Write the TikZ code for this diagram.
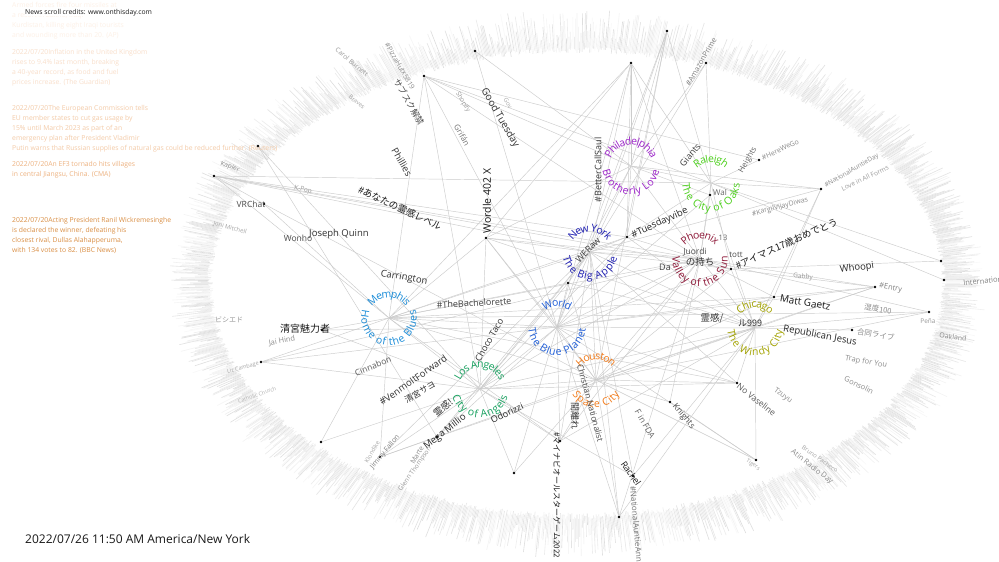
\documentclass[tikz,border=0pt]{standalone}
\usepackage{fontspec}
\setmainfont{Open Sans}
\newfontfamily\jp{Noto Sans CJK JP}
\usetikzlibrary{decorations.text}
\pgfdeclarelayer{ringlayer}
\pgfdeclarelayer{linklayer}
\pgfsetlayers{ringlayer,linklayer,main}
\definecolor{cmem}{HTML}{1A8CD8}
\definecolor{cphi}{HTML}{9B22C8}
\definecolor{cral}{HTML}{4CCF1C}
\definecolor{cny}{HTML}{1C1CB0}
\definecolor{cpho}{HTML}{8E1838}
\definecolor{cwor}{HTML}{1F5ED8}
\definecolor{cchi}{HTML}{A3A300}
\definecolor{cla}{HTML}{16A05E}
\definecolor{chou}{HTML}{F27A18}
\definecolor{nwa}{HTML}{FDF0E6}
\definecolor{nwb}{HTML}{F9DFCB}
\definecolor{nwc}{HTML}{F4CBA8}
\definecolor{nwd}{HTML}{EDB280}
\definecolor{nwe}{HTML}{DA8F45}
\newcommand\cityfont{\fontsize{10.5}{12}\selectfont}
\tikzset{
  dot/.style={circle,fill=black,inner sep=0pt,minimum size=2.8pt},
  hub/.style={circle,fill=black!45,inner sep=0pt,minimum size=1.4pt},
  link/.style={draw=black!20,line width=0.45pt},
  lbl/.style={inner sep=0pt,text=black!#1},
  fs/.style={font=\fontsize{#1}{#1}\selectfont},
  news/.style={inner sep=0pt,anchor=north west,align=left,font=\fontsize{6.8}{10}\selectfont},
}
% name, pos, top mid radius, bottom mid radius, colour, top text, bottom text
\newcommand\citylabel[7]{%
  \node[hub] (#1) at (#2) {};
  \path[decorate,decoration={text along path,text align=center,raise=-3.7pt,text color=#5,text={|\cityfont|#6}}] (#2) ++(110:#3) arc[start angle=110,end angle=430,radius=#3];
  \path[decorate,decoration={text along path,text align=center,raise=-3.7pt,text color=#5,text={|\cityfont|#7}}] (#2) ++(250:#4) arc[start angle=250,end angle=-70,radius=#4];
}
\begin{document}
\begin{tikzpicture}[x=1pt,y=-1pt]
\useasboundingbox (0,0) rectangle (999,562);

% background and fuzzy ring
\begin{pgfonlayer}{ringlayer}
\fill[white] (0,0) rectangle (999,562);
\pgfmathsetseed{42}
\foreach \i in {0,...,1799}{
  \pgfmathsetmacro\ang{\i*0.2}
  \pgfmathsetmacro\sh{-3+6*rnd}
  \pgfmathsetmacro\len{6+34*rnd}
  \pgfmathsetmacro\opa{0.05+0.24*rnd}
  \draw[black!45,opacity=\opa,line width=0.6pt,shift={(577,283)}] (\ang:367 and 233) ++(\ang:\sh) -- ++(\ang:\len);
}
\end{pgfonlayer}

% news scroll
\node[news,text=nwa] (n1) at (12,2.2) {Armed forces fire four missiles at\\a resort in Zakho, Iraqi\\Kurdistan, killing eight Iraqi tourists\\and wounding more than 20. (AP)};
\node[news,text=nwb] (n2) at (12,49.2) {2022/07/20Inflation in the United Kingdom\\rises to 9.4\% last month, breaking\\a 40-year record, as food and fuel\\prices increase. (The Guardian)};
\node[news,text=nwc] (n3) at (12,105.2) {2022/07/20The European Commission tells\\EU member states to cut gas usage by\\15\% until March 2023 as part of an\\emergency plan after President Vladimir\\Putin warns that Russian supplies of natural gas could be reduced further. (Reuters)};
\node[news,text=nwd] (n4) at (12,161.2) {2022/07/20An EF3 tornado hits villages\\in central Jiangsu, China. (CMA)};
\node[news,text=nwe] (n5) at (12,217.2) {2022/07/20Acting President Ranil Wickremesinghe\\is declared the winner, defeating his\\closest rival, Dullas Alahapperuma,\\with 134 votes to 82. (BBC News)};
\node[inner sep=0pt,anchor=west,fill=white,font=\fontsize{6.8}{8}\selectfont,text=black!90] (credit) at (25,13) {News scroll credits: www.onthisday.com};
\node[inner sep=0pt,anchor=west,font=\fontsize{12}{14}\selectfont,text=black!90] (stamp) at (25,539) {2022/07/26 11:50 AM America/New York};

% dots
\node[dot] (d1) at (424,76) {};
\node[dot] (d2) at (475,51) {};
\node[dot] (d3) at (631,63) {};
\node[dot] (d4) at (667,31) {};
\node[dot] (d5) at (706,63) {};
\node[dot] (d6) at (258,146) {};
\node[dot] (d7) at (214,176) {};
\node[dot] (d8) at (264,204) {};
\node[dot] (d9) at (486,238) {};
\node[dot] (d10) at (627,237) {};
\node[dot] (d11) at (568,283) {};
\node[dot] (d12) at (731,269) {};
\node[dot] (d13) at (774,297) {};
\node[dot] (d14) at (821,189) {};
\node[dot] (d15) at (759,160) {};
\node[dot] (d16) at (710,195) {};
\node[dot] (d17) at (875,287) {};
\node[dot] (d18) at (929,312) {};
\node[dot] (d19) at (941,261) {};
\node[dot] (d20) at (944,280) {};
\node[dot] (d21) at (852,330) {};
\node[dot] (d22) at (737,383) {};
\node[dot] (d23) at (670,402) {};
\node[dot] (d24) at (756,460) {};
\node[dot] (d25) at (633,476) {};
\node[dot] (d26) at (619,517) {};
\node[dot] (d27) at (514,473) {};
\node[dot] (d28) at (560,441) {};
\node[dot] (d29) at (321,442) {};
\node[dot] (d30) at (380,457) {};
\node[dot] (d31) at (437,437) {};
\node[dot] (d32) at (261,362) {};
\node[dot] (d33) at (322,330) {};

% cities
\citylabel{hMem}{389,318}{24}{24}{cmem}{Memphis}{Home of the Blues}
\citylabel{hPhi}{631,166}{25}{25}{cphi}{Philadelphia}{Brotherly Love}
\citylabel{hRal}{711,183}{24}{25}{cral}{Raleigh}{The City of Oaks}
\citylabel{hNY}{590,252}{24}{24}{cny}{New York}{The Big Apple}
\citylabel{hPho}{700,259}{24}{24}{cpho}{Phoenix}{Valley of the Sun}
\citylabel{hWor}{557,327}{24}{25}{cwor}{World}{The Blue Planet}
\citylabel{hChi}{755,328}{24}{24}{cchi}{Chicago}{The Windy City}
\citylabel{hLA}{480,389}{25}{25}{cla}{Los Angeles}{City of Angels}
\citylabel{hHou}{596,380}{24}{24}{chou}{Houston}{Space City}

% links
\begin{pgfonlayer}{linklayer}
\foreach \u/\v in {hMem/d1,hMem/d3,hMem/d8,hMem/d7,hMem/d33,hMem/d32,hMem/d29,hMem/d30,hMem/hWor,hMem/hNY,hMem/hPho,hMem/hHou,hMem/hLA,hMem/d9,hMem/d13,hMem/d10,hMem/d18,
 hMem/d11,hMem/d28,hMem/d22,
 hWor/d1,hWor/d2,hWor/d3,hWor/d4,hWor/d28,hWor/d31,hWor/d10,hWor/hLA,hWor/hHou,hWor/hPho,hWor/hChi,hWor/d17,hWor/d22,hWor/d24,hWor/d26,hWor/d27,hWor/d32,hWor/d33,
 hWor/d9,hWor/d11,hWor/d12,hWor/d13,hWor/d16,
 hNY/d3,hNY/d4,hNY/d7,hNY/d9,hNY/d11,hNY/hPho,hNY/d12,hNY/d14,hNY/d25,hNY/d26,hNY/d30,hNY/d10,hNY/d5,
 hNY/d28,hNY/d22,hNY/d31,hNY/hWor,hNY/hLA,hNY/hHou,hNY/hChi,
 hPho/d1,hPho/d3,hPho/d12,hPho/d13,hPho/d17,hPho/d18,hPho/d23,hPho/hChi,hPho/d26,hPho/d7,hPho/d32,hPho/d16,
 hPho/hLA,hPho/hHou,hPho/d28,hPho/d9,hPho/d10,
 hLA/d1,hLA/d30,hLA/d31,hLA/d29,hLA/d25,hLA/d28,hLA/hHou,hLA/hChi,hLA/d22,hLA/d32,hLA/d9,
 hLA/d10,hLA/d11,hLA/d27,hLA/d33,hLA/d6,
 hHou/d4,hHou/d8,hHou/d26,hHou/d27,hHou/d22,hHou/hChi,hHou/d13,hHou/d17,hHou/d18,hHou/d30,hHou/d9,
 hHou/d28,hHou/d23,hHou/d24,hHou/d11,hHou/d12,
 hChi/d12,hChi/d13,hChi/d17,hChi/d18,hChi/d21,hChi/d22,hChi/d24,hChi/d25,hChi/d26,hChi/d31,
 hChi/d10,hChi/d11,hChi/d14,hChi/d16,hChi/d28,hChi/d9,
 hPhi/d3,hPhi/d1,hPhi/d5,hPhi/d10,hPhi/hRal,hPhi/d16,hPhi/d14,hPhi/d9,hPhi/d4,
 hPhi/d11,hPhi/hNY,hPhi/hPho,hPhi/d2,
 hRal/d4,hRal/d15,hRal/d14,hRal/d16,hRal/d20,hRal/d7,hRal/d1,hRal/d3,
 hRal/d10,hRal/d12,hRal/hPho,hRal/d19,hRal/d5,
 d6/d31,d12/d19,d12/d17,d13/d17,d14/d13,d24/d23,d7/d10,d7/d12,d15/d1,d3/d9,d30/d31,d7/d8,d3/d10,d4/d10}
 {\draw[link] (\u) -- (\v);}
\end{pgfonlayer}

% labels
\node[lbl=80,fs=10,rotate=-60] (l1) at (500,118) {Good Tuesday};
\node[lbl=90,fs=10.5,rotate=90] (l2) at (487,201) {Wordle 402 X};
\node[lbl=80,fs=9.5,rotate=-60] (l3) at (402,162) {Phillies};
\node[lbl=90,fs=9.5,rotate=-25] (l4) at (400,208) {\jp \#あなたの霊感レベル};
\node[lbl=80,fs=9.5] (l5) at (339,234) {Joseph Quinn};
\node[lbl=70,fs=8.5] (l6) at (298,238) {Wonho};
\node[lbl=70,fs=8.5] (l7) at (251,204) {VRChat};
\node[lbl=80,fs=9.5,rotate=-10] (l8) at (404,278) {Carrington};
\node[lbl=75,fs=9,rotate=3] (l9) at (474,303) {\#TheBachelorette};
\node[lbl=90,fs=10] (l10) at (305,329) {\jp 清宮魅力者};
\node[lbl=65,fs=8.5,rotate=22] (l11) at (373,366) {Cinnabon};
\node[lbl=80,fs=9.5,rotate=35] (l12) at (413,380) {\#VenmoItForward};
\node[lbl=80,fs=8.5,rotate=30] (l13) at (420,392) {\jp 清宮サヨ};
\node[lbl=80,fs=9,rotate=60] (l14) at (489,340) {Choco Taco};
\node[lbl=80,fs=9.5,rotate=40] (l15) at (443,408) {\jp 霊感!};
\node[lbl=85,fs=9.5,rotate=38] (l16) at (445,432) {Mega Millio};
\node[lbl=85,fs=9,rotate=25] (l17) at (507,413) {Odorizzi};
\node[lbl=90,fs=8,rotate=-90,anchor=west] (l18) at (557,432) {\jp \#マイナビオールスターゲーム2022};
\node[lbl=70,fs=8.5,rotate=-75,anchor=west] (l19) at (580,364) {Christian Nationalist};
\node[lbl=80,fs=9,rotate=-90,anchor=west] (l20) at (575,402) {\jp 間離れ};
\node[lbl=60,fs=8.5,rotate=-60,anchor=west] (l21) at (637,410) {F in FDA};
\node[lbl=70,fs=8.5,rotate=-50,anchor=west] (l22) at (674,405) {Knights};
\node[lbl=90,fs=9,rotate=-55,anchor=west] (l23) at (623,462) {Rachel};
\node[lbl=55,fs=8,rotate=-85,anchor=west] (l24) at (633,486) {\#NationalAuntieAnnes};
\node[lbl=65,fs=8.5,rotate=-38,anchor=west] (l25) at (738,385) {No Vaseline};
\node[lbl=45,fs=7.5,rotate=-35] (l26) at (783,396) {Tzuyu};
\node[lbl=45,fs=7.5,rotate=-10] (l27) at (866,362) {Trap for You};
\node[lbl=45,fs=7.5,rotate=-25] (l28) at (859,385) {Gonsolin};
\node[lbl=85,fs=9.5,rotate=-10] (l29) at (820,336) {Republican Jesus};
\node[lbl=45,fs=7.5,rotate=-8,anchor=west] (l30) at (857,332) {\jp 合同ライブ};
\node[lbl=45,fs=7.5,rotate=-10] (l31) at (878,309) {\jp 湿度100};
\node[lbl=40,fs=6.5] (l32) at (928,321) {Peña};
\node[lbl=45,fs=7,rotate=-8] (l33) at (953,337) {Oakland};
\node[lbl=50,fs=7.5,rotate=6,anchor=west] (l34) at (963,283) {International};
\node[lbl=50,fs=7.5,rotate=-10,anchor=west] (l35) at (879,286) {\#Entry};
\node[lbl=85,fs=9.5,rotate=8] (l36) at (857,268) {Whoopi};
\node[lbl=90,fs=10,rotate=-10,anchor=west] (l37) at (780,298) {Matt Gaetz};
\node[lbl=40,fs=6.5,rotate=-5] (l38) at (803,277) {Gabby};
\node[lbl=90,fs=9.5,rotate=24,anchor=west] (l39) at (736,266) {\jp \#アイマス17歳おめでとう};
\node[lbl=45,fs=7,rotate=15] (l40) at (780,207) {\#KargilVijayDiwas};
\node[lbl=45,fs=6.5,rotate=30,anchor=west] (l41) at (825,186) {\#NationalAuntieDay};
\node[lbl=40,fs=6.5,rotate=25] (l42) at (865,178) {Love in All Forms};
\node[lbl=45,fs=7,rotate=25,anchor=west] (l43) at (762,158) {\#HereWeGo};
\node[lbl=60,fs=8,rotate=60] (l44) at (748,160) {Heights};
\node[lbl=75,fs=9,rotate=50] (l45) at (690,155) {Giants};
\node[lbl=80,fs=9,rotate=90] (l46) at (598,170) {\#BetterCallSaul};
\node[lbl=50,fs=7.5,rotate=60] (l47) at (701,62) {\#AmazonPrime};
\node[lbl=60,fs=8] (l48) at (720,192) {Wal};
\node[lbl=85,fs=9.5,rotate=25,anchor=west] (l49) at (632,236) {\#Tuesdayvibe};
\node[lbl=75,fs=9,rotate=45] (l50) at (588,250) {WERaw};
\node[lbl=80,fs=9.5] (l51) at (700,262) {\jp の持ち};
\node[lbl=60,fs=7.5] (l52) at (723,238) {13};
\node[lbl=80,fs=9.5] (l53) at (712,318) {\jp 霊感/};
\node[lbl=80,fs=9] (l54) at (750,323) {\jp ル999};
\node[lbl=40,fs=6.5,rotate=-60] (l55) at (463,102) {Shopify};
\node[lbl=55,fs=8,rotate=-60] (l56) at (462,135) {Grifán};
\node[lbl=70,fs=8.5,rotate=-60] (l57) at (409,102) {\jp サブスク解禁};
\node[lbl=45,fs=7,rotate=-60] (l58) at (400,66) {\#PizzaHutx5819};
\node[lbl=40,fs=6.5,rotate=-40] (l59) at (352,62) {Carol Burnett};
\node[lbl=35,fs=6,rotate=-40] (l60) at (357,102) {Braves};
\node[lbl=45,fs=6.5,rotate=-20] (l61) at (230,167) {Kapler};
\node[lbl=40,fs=6.5,rotate=-15] (l62) at (303,190) {K-Pop};
\node[lbl=35,fs=6,rotate=-15] (l63) at (230,228) {Joni Mitchell};
\node[lbl=40,fs=7] (l64) at (229,320) {\jp ビシエド};
\node[lbl=45,fs=7.5,rotate=10] (l65) at (282,341) {Jai Hind};
\node[lbl=35,fs=5.5,rotate=15] (l66) at (243,368) {Liz Cambage};
\node[lbl=30,fs=5.5,rotate=20] (l67) at (257,395) {Catholic Church};
\node[lbl=35,fs=6,rotate=60] (l68) at (372,452) {Klondike};
\node[lbl=45,fs=7,rotate=60] (l69) at (417,455) {Marte};
\node[lbl=40,fs=6.5,rotate=55] (l70) at (415,469) {Glenn Thompson};
\node[lbl=50,fs=7,rotate=50] (l71) at (385,452) {Jimmy Fallon};
\node[lbl=45,fs=7.5,rotate=-38] (l72) at (812,467) {Atin Radio Day};
\node[lbl=35,fs=6,rotate=-35] (l73) at (820,459) {Bruno Pacheco};
\node[lbl=35,fs=5.5,rotate=-35] (l74) at (753,465) {Tigers};
\node[lbl=35,fs=6,rotate=-60] (l75) at (508,103) {Gov};
\node[lbl=75,fs=9] (l77) at (665,267) {Da};
\node[lbl=70,fs=8] (l78) at (736,255) {tott};
\node[lbl=70,fs=8.5] (l79) at (695,252) {Juordi};
\end{tikzpicture}
\end{document}
